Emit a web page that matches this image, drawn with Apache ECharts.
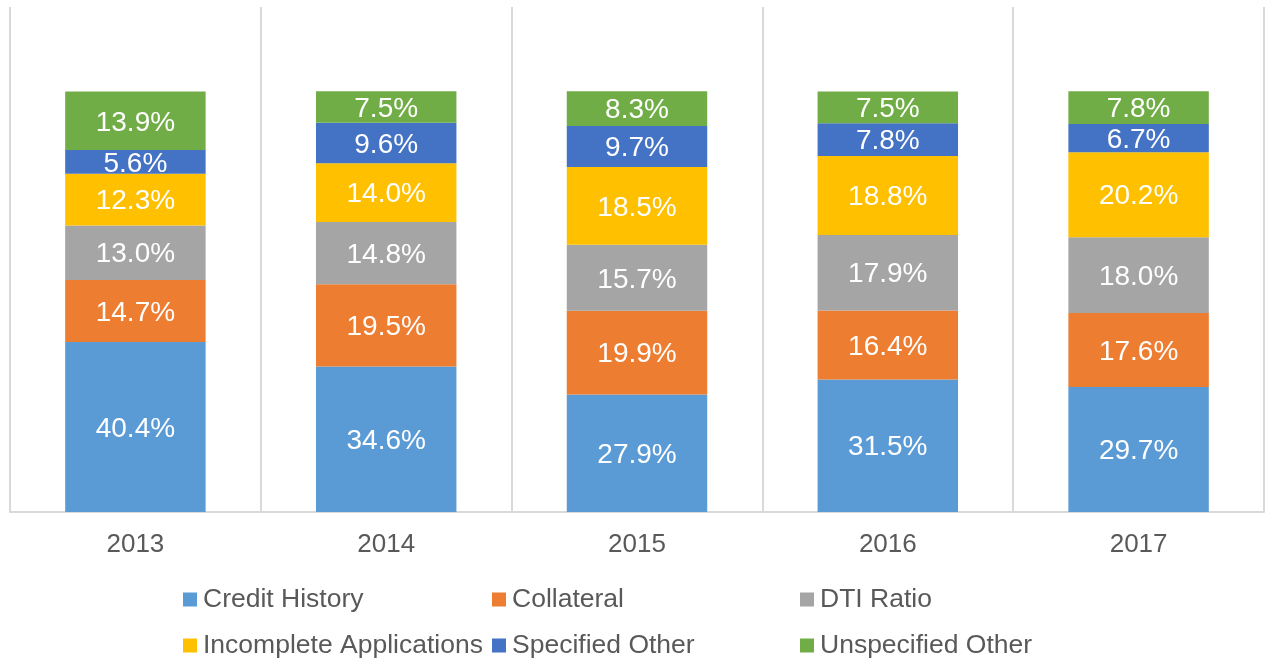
<!DOCTYPE html>
<html>
<head>
<meta charset="utf-8">
<script src="https://cdn.jsdelivr.net/npm/echarts@6/dist/echarts.min.js"></script>
<style>
html,body{margin:0;padding:0;background:#fff;}
#chart{width:1265px;height:660px;}
</style>
</head>
<body>
<div id="chart"></div>
<script>
const categories = ['2013', '2014', '2015', '2016', '2017'];
const seriesNames = ['Credit History', 'Collateral', 'DTI Ratio', 'Incomplete Applications', 'Specified Other', 'Unspecified Other'];
const creditHistory = [40.4, 34.6, 27.9, 31.5, 29.7];
const collateral = [14.7, 19.5, 19.9, 16.4, 17.6];
const dtiRatio = [13.0, 14.8, 15.7, 17.9, 18.0];
const incompleteApplications = [12.3, 14.0, 18.5, 18.8, 20.2];
const specifiedOther = [5.6, 9.6, 9.7, 7.8, 6.7];
const unspecifiedOther = [13.9, 7.5, 8.3, 7.5, 7.8];

const seriesValues = [creditHistory, collateral, dtiRatio, incompleteApplications, specifiedOther, unspecifiedOther];
const colors = ['#5B9BD5', '#ED7D31', '#A5A5A5', '#FFC000', '#4472C4', '#70AD47'];
const FONT = '"Liberation Sans", Arial, sans-serif';

const legendPos = [
  {left: 183, top: 586}, {left: 492, top: 586}, {left: 800, top: 586},
  {left: 183, top: 632}, {left: 492, top: 632}, {left: 800, top: 632}
];

const chart = echarts.init(document.getElementById('chart'), null, {renderer: 'canvas'});
chart.setOption({
  animation: false,
  color: colors,
  grid: {left: 10, right: 1, top: 7, bottom: 148, containLabel: false},
  legend: seriesNames.map((n, i) => ({
    data: [n],
    left: legendPos[i].left,
    top: legendPos[i].top,
    padding: 0,
    itemWidth: 14,
    itemHeight: 14,
    itemGap: 0,
    icon: 'rect',
    textStyle: {fontFamily: FONT, fontSize: 26.5, color: '#595959', lineHeight: 27, padding: [0, 0, 0, 1]}
  })),
  xAxis: {
    type: 'category',
    data: categories,
    boundaryGap: true,
    axisLine: {show: true, lineStyle: {color: '#D9D9D9', width: 2}},
    axisTick: {show: false},
    splitLine: {show: true, lineStyle: {color: '#D9D9D9', width: 2}},
    axisLabel: {fontFamily: FONT, fontSize: 26, color: '#595959', margin: 20}
  },
  yAxis: {
    type: 'value',
    min: 0,
    max: 120,
    show: false,
    splitLine: {show: false}
  },
  series: seriesNames.map((n, i) => ({
    name: n,
    type: 'bar',
    stack: 'total',
    barWidth: '56%',
    data: seriesValues[i],
    itemStyle: {color: colors[i]},
    label: {
      show: true,
      position: 'inside',
      offset: [0, 2],
      color: '#ffffff',
      fontFamily: FONT,
      fontSize: 28,
      formatter: p => p.value.toFixed(1) + '%'
    }
  }))
});
</script>
</body>
</html>
